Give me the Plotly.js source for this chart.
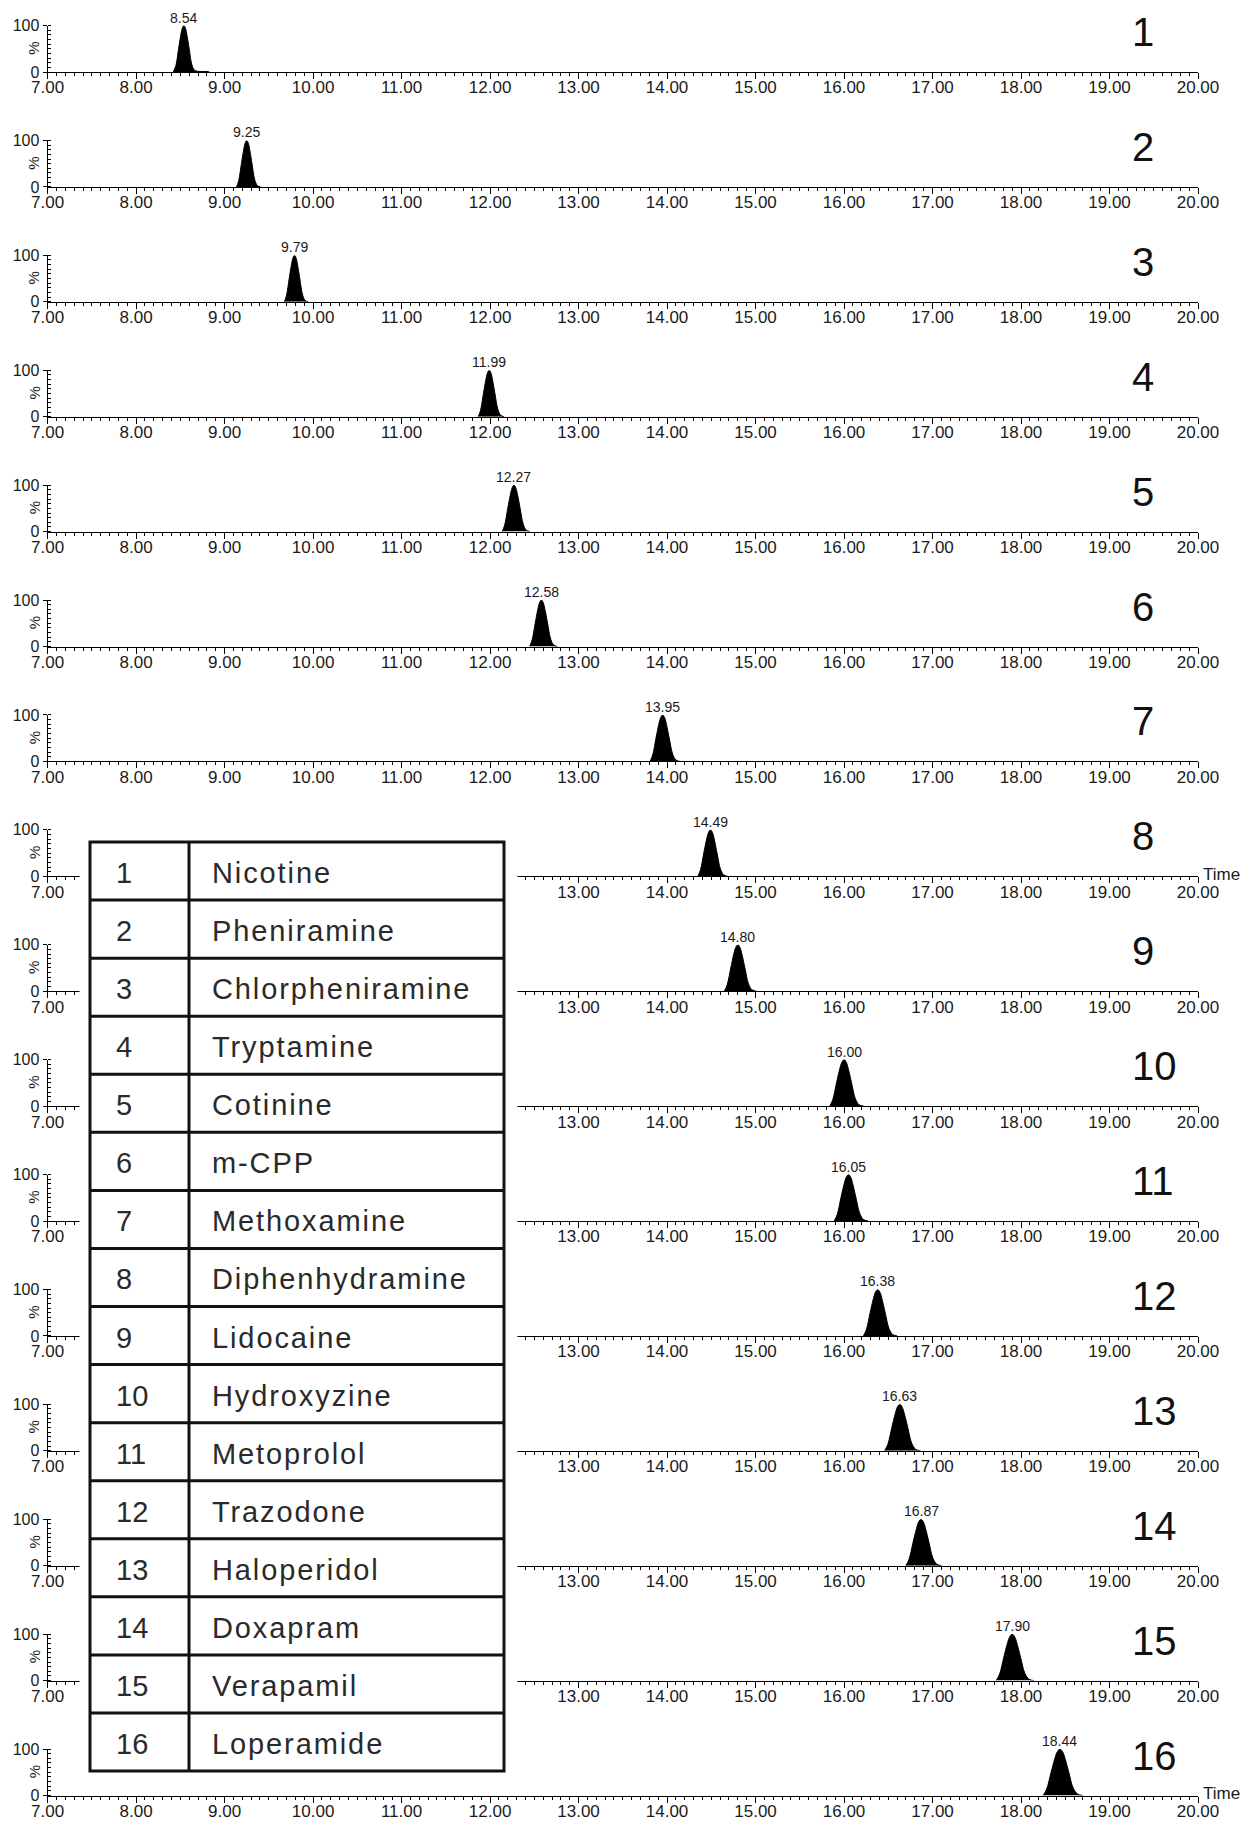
<!DOCTYPE html>
<html>
<head>
<meta charset="utf-8">
<script src="https://cdn.plot.ly/plotly-3.0.1.min.js"></script>
<style>
  html, body { margin: 0; padding: 0; background: #ffffff; }
  #chart { width: 1249px; height: 1822px; }
</style>
</head>
<body>
<div id="chart"></div>
<script>
// ---------------- data ----------------
const panelLabels = ['1','2','3','4','5','6','7','8','9','10','11','12','13','14','15','16'];
const compounds = ['Nicotine','Pheniramine','Chlorpheniramine','Tryptamine','Cotinine','m-CPP',
  'Methoxamine','Diphenhydramine','Lidocaine','Hydroxyzine','Metoprolol','Trazodone',
  'Haloperidol','Doxapram','Verapamil','Loperamide'];
const retentionTimes = [8.54, 9.25, 9.79, 11.99, 12.27, 12.58, 13.95, 14.49, 14.80, 16.00, 16.05, 16.38, 16.63, 16.87, 17.90, 18.44];
const xTickValues = [7,8,9,10,11,12,13,14,15,16,17,18,19,20];
const xTickLabels = ['7.00','8.00','9.00','10.00','11.00','12.00','13.00','14.00','15.00','16.00','17.00','18.00','19.00','20.00'];
const xTickLabelsTable = ['7.00','','','','','','13.00','14.00','15.00','16.00','17.00','18.00','19.00','20.00'];
const yTickValues = [0, 100];
const yTickLabels = ['0', '100'];

// chromatogram peaks (time in min, intensity in %)
const t1  = [8.42, 8.45, 8.48, 8.504, 8.522, 8.54, 8.558, 8.576, 8.60, 8.63, 8.66, 8.70, 8.80, 8.83];
const i1  = [0, 14, 50, 78, 94, 100, 94, 78, 50, 16, 4, 1.5, 1, 0];
const t2  = [9.136, 9.16, 9.19, 9.214, 9.232, 9.25, 9.268, 9.286, 9.31, 9.34, 9.37, 9.406];
const i2  = [0, 14, 50, 78, 94, 100, 94, 78, 50, 16, 3, 0];
const t3  = [9.676, 9.70, 9.73, 9.754, 9.772, 9.79, 9.808, 9.826, 9.85, 9.88, 9.91, 9.946];
const i3  = [0, 14, 50, 78, 94, 100, 94, 78, 50, 16, 3, 0];
const t4  = [11.867, 11.893, 11.925, 11.951, 11.971, 11.99, 12.01, 12.029, 12.055, 12.088, 12.12, 12.159];
const i4  = [0, 14, 50, 78, 94, 100, 94, 78, 50, 16, 3, 0];
const t5  = [12.137, 12.165, 12.20, 12.228, 12.249, 12.27, 12.291, 12.312, 12.34, 12.375, 12.41, 12.452];
const i5  = [0, 14, 50, 78, 94, 100, 94, 78, 50, 16, 3, 0];
const t6  = [12.447, 12.475, 12.51, 12.538, 12.559, 12.58, 12.601, 12.622, 12.65, 12.685, 12.72, 12.762];
const i6  = [0, 14, 50, 78, 94, 100, 94, 78, 50, 16, 3, 0];
const t7  = [13.808, 13.838, 13.875, 13.905, 13.928, 13.95, 13.973, 13.995, 14.025, 14.063, 14.10, 14.145];
const i7  = [0, 14, 50, 78, 94, 100, 94, 78, 50, 16, 3, 0];
const t8  = [14.348, 14.378, 14.415, 14.445, 14.468, 14.49, 14.513, 14.535, 14.565, 14.603, 14.64, 14.685];
const i8  = [0, 14, 50, 78, 94, 100, 94, 78, 50, 16, 3, 0];
const t9  = [14.648, 14.68, 14.72, 14.752, 14.776, 14.80, 14.824, 14.848, 14.88, 14.92, 14.96, 15.008];
const i9  = [0, 14, 50, 78, 94, 100, 94, 78, 50, 16, 3, 0];
const t10 = [15.839, 15.873, 15.915, 15.949, 15.975, 16.00, 16.026, 16.051, 16.085, 16.128, 16.17, 16.221];
const i10 = [0, 14, 50, 78, 94, 100, 94, 78, 50, 16, 3, 0];
const t11 = [15.889, 15.923, 15.965, 15.999, 16.025, 16.05, 16.076, 16.101, 16.135, 16.178, 16.22, 16.271];
const i11 = [0, 14, 50, 78, 94, 100, 94, 78, 50, 16, 3, 0];
const t12 = [16.219, 16.253, 16.295, 16.329, 16.355, 16.38, 16.406, 16.431, 16.465, 16.508, 16.55, 16.601];
const i12 = [0, 14, 50, 78, 94, 100, 94, 78, 50, 16, 3, 0];
const t13 = [16.459, 16.495, 16.54, 16.576, 16.603, 16.63, 16.657, 16.684, 16.72, 16.765, 16.81, 16.864];
const i13 = [0, 14, 50, 78, 94, 100, 94, 78, 50, 16, 3, 0];
const t14 = [16.699, 16.735, 16.78, 16.816, 16.843, 16.87, 16.897, 16.924, 16.96, 17.005, 17.05, 17.104];
const i14 = [0, 14, 50, 78, 94, 100, 94, 78, 50, 16, 3, 0];
const t15 = [17.72, 17.758, 17.805, 17.843, 17.872, 17.90, 17.929, 17.957, 17.995, 18.043, 18.09, 18.147];
const i15 = [0, 14, 50, 78, 94, 100, 94, 78, 50, 16, 3, 0];
const t16 = [18.25, 18.29, 18.34, 18.38, 18.41, 18.44, 18.47, 18.50, 18.54, 18.59, 18.64, 18.70];
const i16 = [0, 14, 50, 78, 94, 100, 94, 78, 50, 16, 3, 0];

const peakTimes = [t1,t2,t3,t4,t5,t6,t7,t8,t9,t10,t11,t12,t13,t14,t15,t16];
const peakIntensities = [i1,i2,i3,i4,i5,i6,i7,i8,i9,i10,i11,i12,i13,i14,i15,i16];
const timePanels = [7, 15];   // panels (0-based) that carry the "Time" label
const maskedPanelsFirst = 7, maskedPanelsLast = 14;

// ---------------- layout geometry (pixels) ----------------
const W = 1249, H = 1822;
const AX0 = 72, STEP = 114.9, PH = 46.5;
const XL = 47.6, XR = 1198;
const FONT = 'Liberation Sans, Arial, Helvetica, sans-serif';
const px = v => v / W;
const py = v => 1 - v / H;

const traces = [];
const layout = {
  width: W, height: H,
  margin: {l: 0, r: 0, t: 0, b: 0, pad: 0},
  paper_bgcolor: '#ffffff', plot_bgcolor: 'rgba(0,0,0,0)',
  showlegend: false,
  font: {family: FONT, color: '#1a1a1a'},
  annotations: [], shapes: []
};

for (let i = 0; i < 16; i++) {
  const n = i === 0 ? '' : String(i + 1);
  const y0 = AX0 + i * STEP;
  const masked = i >= maskedPanelsFirst && i <= maskedPanelsLast;
  traces.push({
    type: 'scatter', mode: 'lines',
    x: peakTimes[i], y: peakIntensities[i],
    xaxis: 'x' + n, yaxis: 'y' + n,
    line: {color: '#000000', width: 1, shape: 'spline'},
    fill: 'tozeroy', fillcolor: '#000000',
    cliponaxis: false, hoverinfo: 'skip'
  });
  layout['xaxis' + n] = {
    domain: [px(XL), px(XR)], range: [7, 20], anchor: 'y' + n,
    showline: true, linecolor: '#000000', linewidth: 1,
    showgrid: false, zeroline: false,
    tickmode: 'array', tickvals: xTickValues, ticktext: masked ? xTickLabelsTable : xTickLabels,
    ticks: 'outside', ticklen: 6, tickwidth: 1, tickcolor: '#000000',
    ticklabelstandoff: -6,
    minor: {tickmode: 'linear', tick0: 7, dtick: 0.1, ticks: 'outside', ticklen: 3, tickwidth: 1, tickcolor: '#000000', showgrid: false},
    tickfont: {family: FONT, size: 17, color: '#1a1a1a'},
    fixedrange: true
  };
  layout['yaxis' + n] = {
    domain: [py(y0), py(y0 - PH)], range: [0, 100], anchor: 'x' + n,
    showline: true, linecolor: '#000000', linewidth: 1,
    showgrid: false, zeroline: false,
    tickmode: 'array', tickvals: yTickValues, ticktext: yTickLabels,
    ticks: 'outside', ticklen: 4, tickwidth: 1, tickcolor: '#000000',
    minor: {tickmode: 'linear', tick0: 0, dtick: 10, ticks: 'inside', ticklen: 3, tickwidth: 1, tickcolor: '#000000', showgrid: false},
    tickfont: {family: FONT, size: 16, color: '#1a1a1a'},
    fixedrange: true
  };
  // peak retention-time label
  layout.annotations.push({
    xref: 'x' + n, yref: 'y' + n, x: retentionTimes[i], y: 100,
    text: retentionTimes[i].toFixed(2), showarrow: false,
    xanchor: 'center', yanchor: 'bottom', yshift: -2,
    font: {family: FONT, size: 14, color: '#1a1a1a'}
  });
  // panel number
  layout.annotations.push({
    xref: 'paper', yref: 'paper', x: px(1130), y: py(y0 - 40),
    text: panelLabels[i], showarrow: false, xanchor: 'left', yanchor: 'middle',
    font: {family: FONT, size: 40, color: '#111111'}
  });
  // % label
  layout.annotations.push({
    xref: 'paper', yref: 'paper', x: px(34), y: py(y0 - PH / 2),
    text: '%', showarrow: false, textangle: -90, xanchor: 'center', yanchor: 'middle',
    font: {family: FONT, size: 15, color: '#1a1a1a'}
  });
  if (timePanels.indexOf(i) >= 0) {
    layout.annotations.push({
      xref: 'paper', yref: 'paper', x: px(1201), y: py(y0 - 2),
      text: 'Time', showarrow: false, xanchor: 'left', yanchor: 'middle',
      font: {family: FONT, size: 17, color: '#1a1a1a'}
    });
  }
}

// white mask hiding the axes behind the compound table
const maskTop = AX0 + maskedPanelsFirst * STEP - 78;
const maskBottom = AX0 + maskedPanelsLast * STEP + 98;
layout.shapes.push({
  type: 'rect', xref: 'paper', yref: 'paper', layer: 'above',
  x0: px(79.5), x1: px(517.5), y0: py(maskBottom), y1: py(maskTop),
  fillcolor: '#ffffff', line: {width: 0}
});

// compound table
const TL = 90, TR = 504, TT = 842, TB = 1771, TC = 189;
const rowH = (TB - TT) / compounds.length;
const tableLine = {color: '#111111', width: 3};
layout.shapes.push({type: 'rect', xref: 'paper', yref: 'paper', layer: 'above',
  x0: px(TL), x1: px(TR), y0: py(TB), y1: py(TT), line: tableLine, fillcolor: 'rgba(0,0,0,0)'});
layout.shapes.push({type: 'line', xref: 'paper', yref: 'paper', layer: 'above',
  x0: px(TC), x1: px(TC), y0: py(TB), y1: py(TT), line: tableLine});
for (let k = 1; k < compounds.length; k++) {
  const yy = TT + k * rowH;
  layout.shapes.push({type: 'line', xref: 'paper', yref: 'paper', layer: 'above',
    x0: px(TL), x1: px(TR), y0: py(yy), y1: py(yy), line: tableLine});
}
for (let k = 0; k < compounds.length; k++) {
  const yc = TT + (k + 0.5) * rowH + 2;
  layout.annotations.push({
    xref: 'paper', yref: 'paper', x: px(114), y: py(yc),
    text: panelLabels[k], showarrow: false, xanchor: 'left', yanchor: 'middle',
    font: {family: FONT, size: 29, color: '#2a2a2a'}
  });
  layout.annotations.push({
    xref: 'paper', yref: 'paper', x: px(210), y: py(yc),
    text: '<span style="letter-spacing:1.9px">' + compounds[k] + '</span>',
    showarrow: false, xanchor: 'left', yanchor: 'middle',
    font: {family: FONT, size: 29, color: '#2a2a2a'}
  });
}

Plotly.newPlot('chart', traces, layout, {staticPlot: true, displayModeBar: false});
</script>
</body>
</html>
